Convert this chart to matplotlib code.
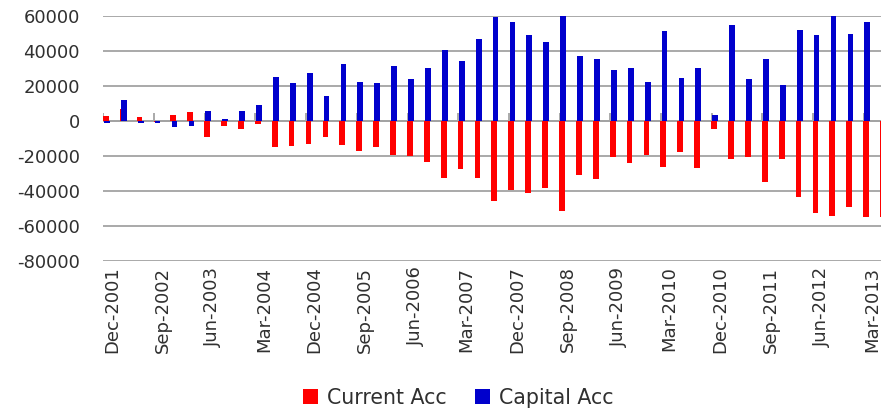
import numpy as np
import matplotlib
matplotlib.use("Agg")
import matplotlib.pyplot as plt

# quarterly values, Dec-2001 .. Jun-2013 (last one is cut off at the right edge)
current_acc = [2500, 6900, 1900, -700, 3200, 4800, -9400, -2700,
               -4800, -1900, -15100, -14500, -13000, -9400, -13800, -17400,
               -15100, -19700, -20000, -23300, -32900, -27700, -32900, -45800,
               -39500, -41400, -38600, -51600, -30900, -33400, -20800,
               -23900, -19700, -26200, -18000, -27100, -4800, -21800, -20800,
               -35000, -21800, -43700, -52500, -54100, -49100, -54800, -55000]
capital_acc = [-1300, 12000, -1100, -1000, -3400, -2700, 5500, 1100,
               5500, 9000, 25200, 21600, 27500, 14100, 32700, 22300,
               21600, 31100, 23900, 30400, 40700, 34000, 46600, 59000,
               56200, 48900, 45100, 60000, 36900, 35500, 28800,
               30400, 22300, 51000, 24400, 30400, 3100, 54600, 23900,
               35500, 20600, 51800, 48900, 59800, 49700, 56200, np.nan]
tick_labels = ['Dec-2001', 'Sep-2002', 'Jun-2003', 'Mar-2004', 'Dec-2004',
               'Sep-2005', 'Jun-2006', 'Mar-2007', 'Dec-2007', 'Sep-2008',
               'Jun-2009', 'Mar-2010', 'Dec-2010', 'Sep-2011', 'Jun-2012',
               'Mar-2013']
y_ticks = [-80000, -60000, -40000, -20000, 0, 20000, 40000, 60000]

n = len(current_acc)
x = np.arange(n)
grey = '#A3A3A3'
txt = '#303030'

fig = plt.figure(figsize=(8.81, 4.11), dpi=100)
ax = fig.add_axes([0.1173, 0.365, 0.8827, 0.5968])

ax.bar(x - 0.36, current_acc, width=0.34, color='#FF0000', label='Current Acc', zorder=3)
ax.bar(x - 0.29, capital_acc, width=0.34, color='#0000CC', label='Capital Acc', zorder=4)

ax.set_ylim(-80000, 60000)
ax.set_xlim(-0.5, 45.52)
ax.set_yticks(y_ticks)
ax.set_yticklabels([str(v) for v in y_ticks])
ax.grid(axis='y', color=grey, linewidth=1.3, zorder=0)
ax.axhline(0, color=grey, linewidth=1.3, zorder=2)
# small category tick marks on the zero axis, every third quarter
ax.vlines(np.arange(-0.5, n, 3), 0, 4200, color=grey, linewidth=1.3, zorder=2)

ax.set_xticks(x[::3][:len(tick_labels)])
ax.set_xticklabels(tick_labels, rotation=90)
ax.tick_params(axis='x', length=0, pad=4, labelsize=13, labelcolor=txt)
ax.tick_params(axis='y', length=0, pad=17, labelsize=13, labelcolor=txt)
for s in ax.spines.values():
    s.set_visible(False)

leg = fig.legend(loc='center', bbox_to_anchor=(0.52, 0.032), ncol=2, frameon=False,
                 handlelength=0.75, handleheight=0.75, handletextpad=0.4, columnspacing=1.4,
                 prop={'size': 14.8})
for t in leg.get_texts():
    t.set_color(txt)

fig.savefig('out.png', dpi=100)
